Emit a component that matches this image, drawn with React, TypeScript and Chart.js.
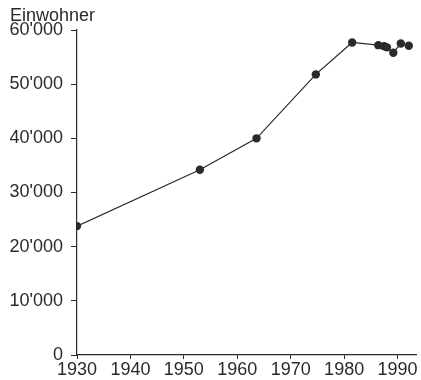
import React, { useEffect, useRef } from "react";
import { Chart, registerables } from "chart.js";

Chart.register(...registerables);

const years = [1930, 1953, 1963.6, 1974.7, 1981.5, 1986.4, 1987.5, 1988, 1989.2, 1990.6, 1992.1];
const population = [23800, 34200, 40000, 51800, 57700, 57200, 57000, 56800, 55800, 57500, 57100];
const yTickValues = [0, 10000, 20000, 30000, 40000, 50000, 60000];
const yTickLabels = ["0", "10'000", "20'000", "30'000", "40'000", "50'000", "60'000"];
const xTickValues = [1930, 1940, 1950, 1960, 1970, 1980, 1990];
const yAxisTitle = "Einwohner";

const FONT = "'Liberation Sans', Arial, sans-serif";
const INK = "#2a2a2a";

export default function App() {
  const ref = useRef<HTMLCanvasElement | null>(null);
  useEffect(() => {
    if (!ref.current) return;
    const titlePlugin = {
      id: "yTitle",
      afterDraw(chart: any) {
        const ctx = chart.ctx;
        ctx.save();
        ctx.fillStyle = INK;
        ctx.font = `18px ${FONT}`;
        ctx.textAlign = "left";
        ctx.textBaseline = "alphabetic";
        ctx.fillText(yAxisTitle, 10, 21);
        ctx.restore();
      },
    };
    const chart = new Chart(ref.current, {
      type: "line",
      data: {
        datasets: [
          {
            data: years.map((y, i) => ({ x: y, y: population[i] })),
            borderColor: INK,
            backgroundColor: INK,
            borderWidth: 1.2,
            pointRadius: 4.2,
            pointBorderWidth: 0,
            pointBackgroundColor: INK,
            tension: 0,
          },
        ],
      },
      options: {
        responsive: false,
        animation: false,
        layout: { padding: { top: 30, left: 0, right: 0, bottom: 0 } },
        plugins: { legend: { display: false }, tooltip: { enabled: false } },
        scales: {
          x: {
            type: "linear",
            min: 1930,
            max: 1993.6,
            afterFit: (s: any) => {
              s.height = 25;
              s.paddingLeft = 0;
              s.paddingRight = 0;
            },
            afterBuildTicks: (s: any) => {
              s.ticks = xTickValues.map((v) => ({ value: v }));
            },
            ticks: {
              color: INK,
              font: { family: FONT, size: 18 },
              padding: 0,
              maxRotation: 0,
              autoSkip: false,
              callback: (v: any) => String(v),
            },
            grid: {
              drawOnChartArea: false,
              drawTicks: true,
              tickLength: 4,
              color: INK,
            },
            border: { color: INK, width: 1.2 },
          },
          y: {
            min: 0,
            max: 60000,
            afterFit: (s: any) => {
              s.width = 77;
            },
            afterBuildTicks: (s: any) => {
              s.ticks = yTickValues.map((v) => ({ value: v }));
            },
            ticks: {
              color: INK,
              font: { family: FONT, size: 18 },
              padding: 8,
              callback: (v: any) => {
                const i = yTickValues.indexOf(Number(v));
                return i >= 0 ? yTickLabels[i] : "";
              },
            },
            grid: {
              drawOnChartArea: false,
              drawTicks: true,
              tickLength: 6,
              color: INK,
            },
            border: { color: INK, width: 1.2 },
          },
        },
      },
      plugins: [titlePlugin],
    });
    return () => chart.destroy();
  }, []);
  return (
    <div style={{ position: "fixed", left: 0, top: 0, width: 421, height: 380, background: "#fff" }}>
      <canvas ref={ref} width={421} height={380} />
    </div>
  );
}
